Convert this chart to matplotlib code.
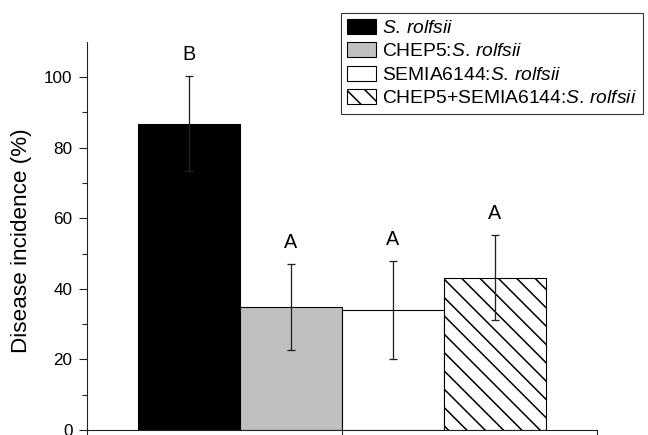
import matplotlib.pyplot as plt
from matplotlib.patches import Patch
from matplotlib.ticker import FixedLocator, NullFormatter

plt.rcParams['font.family'] = ['Liberation Sans', 'DejaVu Sans']
plt.rcParams['mathtext.fontset'] = 'custom'
plt.rcParams['mathtext.rm'] = 'Liberation Sans'
plt.rcParams['mathtext.it'] = 'Liberation Sans:italic'

# treatment data: mean disease incidence (%) with error, and letter groups
legend_labels = [r'$\it{S.\,rolfsii}$',
                 r'CHEP5:$\it{S.\,rolfsii}$',
                 r'SEMIA6144:$\it{S.\,rolfsii}$',
                 r'CHEP5+SEMIA6144:$\it{S.\,rolfsii}$']
incidence = [86.8, 34.9, 34.0, 43.2]
errors = [13.5, 12.1, 14.0, 12.1]
letters = ['B', 'A', 'A', 'A']

facecolors = ['black', '#c0c0c0', 'white', 'white']
hatches = ['', '', '', '\\\\']

dpi = 110


def px(v):
    # sizes below are given in output pixels
    return v * 72 / dpi


fig = plt.figure(figsize=(648 / dpi, 435 / dpi), dpi=dpi)
ax = fig.add_axes([87 / 648, 1 - 430 / 435, 510 / 648, (430 - 41.7) / 435])

xpos = [1, 2, 3, 4]
for x, v, fc, h in zip(xpos, incidence, facecolors, hatches):
    ax.bar(x, v, width=1.0, color=fc, edgecolor='black', linewidth=px(1.1),
           hatch=h, zorder=2)

ax.errorbar(xpos, incidence, yerr=errors, fmt='none', ecolor='#222222',
            elinewidth=px(1.3), capsize=px(4.3), capthick=px(1.3), zorder=3)

for x, v, e, t in zip(xpos, incidence, errors, letters):
    ax.text(x, v + e + 6, t, ha='center', va='center', fontsize=px(19.8))

ax.set_xlim(0, 5)
ax.set_ylim(0, 110)
ax.spines['top'].set_visible(False)
ax.spines['right'].set_visible(False)
for s in ['left', 'bottom']:
    ax.spines[s].set_linewidth(px(1.1))
    ax.spines[s].set_color('#222222')

ax.yaxis.set_major_locator(FixedLocator([0, 20, 40, 60, 80, 100]))
ax.yaxis.set_minor_locator(FixedLocator([10, 30, 50, 70, 90]))
ax.xaxis.set_major_locator(FixedLocator([0, 2.5, 5]))
ax.xaxis.set_major_formatter(NullFormatter())
ax.tick_params(axis='y', which='major', direction='out', length=px(8),
               width=px(1.1), labelsize=px(17.1), pad=px(6.4),
               colors='#222222', labelcolor='black')
ax.tick_params(axis='y', which='minor', direction='out', length=px(4.8),
               width=px(1.1), colors='#222222')
ax.tick_params(axis='x', which='major', direction='out', length=px(7.5),
               width=px(1.1), colors='#222222')
ax.set_ylabel('Disease incidence (%)', fontsize=px(22.5))
ax.yaxis.set_label_coords(-55 / 510, 0.487)

handles = [Patch(facecolor=fc, edgecolor='black', hatch=h, linewidth=px(1.1))
           for fc, h in zip(facecolors, hatches)]
fig.legend(handles, legend_labels, loc='upper left',
           bbox_to_anchor=(341 / 648, 1 - 12.7 / 435),
           bbox_transform=fig.transFigure, borderaxespad=0,
           fontsize=px(19.3), frameon=True, fancybox=False,
           edgecolor='#333333', framealpha=1, handlelength=1.5,
           handleheight=0.8, handletextpad=0.3, labelspacing=0.28,
           borderpad=0.32)
fig.legends[0].get_frame().set_linewidth(px(1.1))

fig.savefig('out.png', dpi=dpi)
